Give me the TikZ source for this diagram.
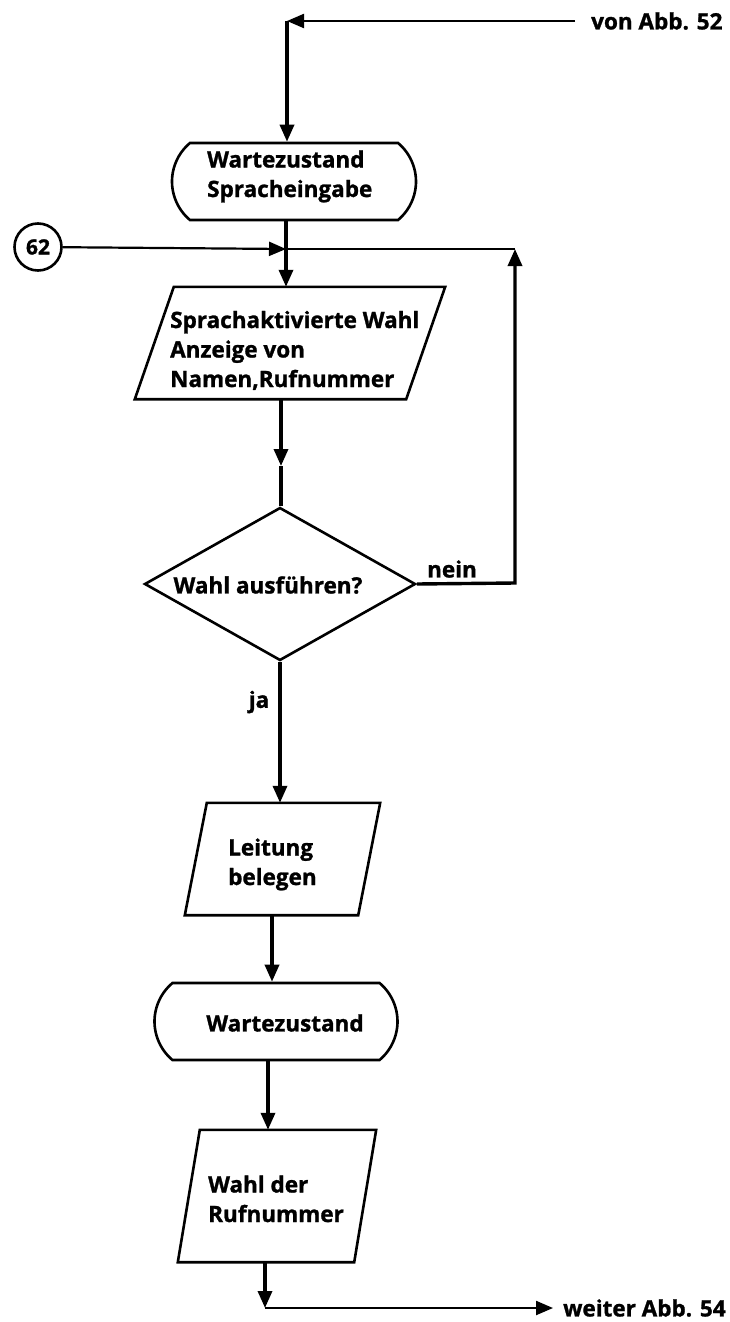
\documentclass[tikz,border=0pt]{standalone}
\usepackage{fontspec}
\setmainfont{Open Sans}[BoldFeatures={FakeBold=1.2}]
\usetikzlibrary{arrows.meta,shapes.geometric,shapes.misc}
\begin{document}
\begin{tikzpicture}[x=1pt,y=-1pt,
  txt/.style={font=\bfseries\fontsize{22.5}{29.5}\selectfont, inner sep=0pt, align=left},
  outline/.style={draw, line width=2.6pt, inner sep=0pt},
  border/.style={line width=2.6pt, line join=miter},
  term/.style={outline, rounded rectangle, rounded rectangle arc length=100,
    minimum height=77pt, minimum width=#1},
  parabox/.style={rectangle, inner sep=0pt},
  tip/.style={-{Triangle[length=17pt,width=14pt]}},
  flow/.style={line width=3.4pt},
  thinflow/.style={line width=2.2pt}
]
\useasboundingbox (0,0) rectangle (729,1322);

% entry from the previous figure
\node[txt, anchor=west] (von) at (591,21) {von Abb. 52};
\coordinate (cTop) at (287,21);

% first waiting state
\node[term=244pt] (t1) at (294,181.5) {};
\node[txt, anchor=base west] (t1txt) at (207,197) {Wartezustand\\Spracheingabe};

% connector 62 and loop junction
\node[outline, circle, minimum size=47pt, font=\bfseries\fontsize{21}{21}\selectfont] (c62) at (38,247) {62};
\coordinate (jL) at (286,249);
\coordinate (cR) at (515,249);
\coordinate (cRlow) at (515,583);

% voice-activated dialling
\node[parabox, minimum width=310pt, minimum height=112pt] (p1) at (290,343) {};
\draw[border] ([xshift=39pt]p1.north west) -- (p1.north east)
  -- ([xshift=-39pt]p1.south east) -- (p1.south west) -- cycle;
\node[txt, anchor=base west] (p1txt) at (170,387) {Sprachaktivierte Wahl\\Anzeige von\\Namen,Rufnummer};

% decision
\coordinate (mid1) at (281,466);
\node[outline, diamond, minimum width=271pt, minimum height=153pt] (dia) at (280,584) {};
\node[txt] (diatxt) at (268,585) {Wahl ausführen?};
\node[txt] (nein) at (452,569) {nein};
\node[txt] (ja) at (259,702) {ja};

% seize line
\node[parabox, minimum width=195pt, minimum height=112pt] (p2) at (282.5,859) {};
\draw[border] ([xshift=22pt]p2.north west) -- (p2.north east)
  -- ([xshift=-22pt]p2.south east) -- (p2.south west) -- cycle;
\node[txt, anchor=base west] (p2txt) at (228,885) {Leitung\\belegen};

% second waiting state
\node[term=243pt] (t2) at (276,1021.5) {};
\node[txt] (t2txt) at (285,1023) {Wartezustand};

% dial the number
\node[parabox, minimum width=198pt, minimum height=132pt] (p3) at (277,1196) {};
\draw[border] ([xshift=22pt]p3.north west) -- (p3.north east)
  -- ([xshift=-22pt]p3.south east) -- (p3.south west) -- cycle;
\node[txt, anchor=base west] (p3txt) at (208,1222) {Wahl der\\Rufnummer};

% exit to the next figure
\coordinate (cBot) at (265,1308);
\node[txt, anchor=west] (weiter) at (563,1308) {weiter Abb. 54};

% connectors
\draw[thinflow, tip, shorten <=16pt] (von.west) -- (cTop);
\draw[flow, tip] (cTop) -- (t1.north -| cTop);
\draw[thinflow, tip] (c62) -- (jL);
\draw[thinflow] (cR) -- (jL);
\draw[flow, tip] (t1.south -| jL) -- (p1.north -| jL);
\draw[flow, tip] (p1.south -| mid1) -- (mid1);
\draw[flow] (mid1) -- (dia.north -| mid1);
\draw[flow, tip] (dia.east) -- (cRlow) -- (cR);
\draw[flow, tip] (dia.south) -- (p2.north -| dia.south);
\draw[flow, tip] (p2.south -| 272,0) -- (t2.north -| 272,0);
\draw[flow, tip] (t2.south -| 268,0) -- (p3.north -| 268,0);
\draw[flow, tip] (p3.south -| cBot) -- (cBot);
\draw[thinflow, tip, shorten >=10pt] (cBot) -- (weiter.west);
\end{tikzpicture}
\end{document}
